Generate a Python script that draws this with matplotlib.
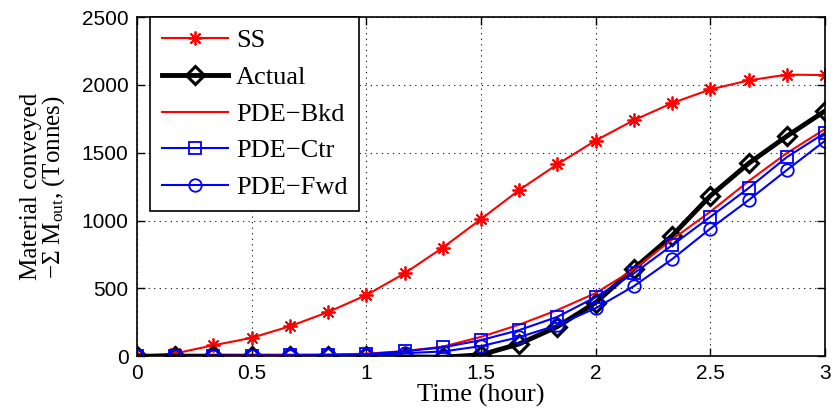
import numpy as np
from matplotlib import pyplot as plt

plt.rcParams['mathtext.fontset'] = 'custom'
plt.rcParams['mathtext.rm'] = 'Liberation Serif'
plt.rcParams['mathtext.it'] = 'Liberation Serif:italic'

# time samples (hours), every 10 minutes
t = np.arange(19) / 6.0

ss = [0, 20, 80, 135, 220, 325, 450, 610, 800, 1010, 1225, 1415, 1590, 1740, 1866, 1967, 2033, 2076, 2073]
actual = [0, 0, 0, 0, 0, 0, 0, -5, -8, 10, 90, 218, 395, 645, 888, 1182, 1421, 1622, 1808]
pde_bkd = [0, 1, 2, 4, 7, 11, 18, 37, 70, 142, 232, 340, 465, 640, 860, 1065, 1290, 1497, 1675]
pde_ctr = [0, 1, 2, 3, 5, 8, 14, 36, 64, 118, 192, 290, 435, 610, 818, 1027, 1239, 1467, 1647]
pde_fwd = [0, 0, 1, 2, 3, 5, 9, 22, 34, 74, 140, 229, 354, 516, 715, 940, 1150, 1372, 1588]

fig = plt.figure(figsize=(8.35, 4.18), dpi=100)
ax = fig.add_axes([0.164, 0.148, 0.824, 0.811])

ax.plot(t, ss, color='red', lw=1.5, marker=(8, 2, 0), ms=10, mew=1.3, label='SS')
ax.plot(t, actual, color='black', lw=3.5, marker='D', ms=9, mfc='none', mew=2.2, label='Actual')
ax.plot(t, pde_bkd, color='red', lw=1.5, label='PDE\u2212Bkd')
ax.plot(t, pde_ctr, color='blue', lw=1.5, marker='s', ms=8, mfc='none', mew=1.3, label='PDE\u2212Ctr')
ax.plot(t, pde_fwd, color='blue', lw=1.5, marker='o', ms=9, mfc='none', mew=1.3, label='PDE\u2212Fwd')

ax.set_xlim(0, 3)
ax.set_ylim(0, 2500)
ax.set_xticks([0, 0.5, 1, 1.5, 2, 2.5, 3])
ax.set_xticklabels(['0', '0.5', '1', '1.5', '2', '2.5', '3'])
ax.set_yticks([0, 500, 1000, 1500, 2000, 2500])
for lab in ax.get_xticklabels() + ax.get_yticklabels():
    lab.set_family('Liberation Sans')
    lab.set_fontsize(15)
ax.tick_params(direction='in', length=6, top=True, right=True, width=1, pad=6)
ax.grid(True, color='black', linestyle=(0, (1, 4)), linewidth=0.8)
for s in ax.spines.values():
    s.set_linewidth(1.2)

ax.set_xlabel('Time (hour)', family='Liberation Serif', fontsize=19, labelpad=0)
ax.set_ylabel('Material conveyed\n$-\\Sigma\\ \\mathrm{M}_{\\mathrm{out}}$, (Tonnes)',
              family='Liberation Serif', fontsize=18, linespacing=0.9)
ax.yaxis.set_label_coords(-0.102, 0.5)

leg = ax.legend(loc='upper left', bbox_to_anchor=(0.019, 1.0),
                prop={'family': 'Liberation Serif', 'size': 19},
                fancybox=False, framealpha=1, edgecolor='black', handlelength=2.5,
                handletextpad=0.3, borderaxespad=0, labelspacing=0.5, borderpad=0.45)
leg.get_frame().set_linewidth(1.2)

fig.savefig('out.png', dpi=100)
